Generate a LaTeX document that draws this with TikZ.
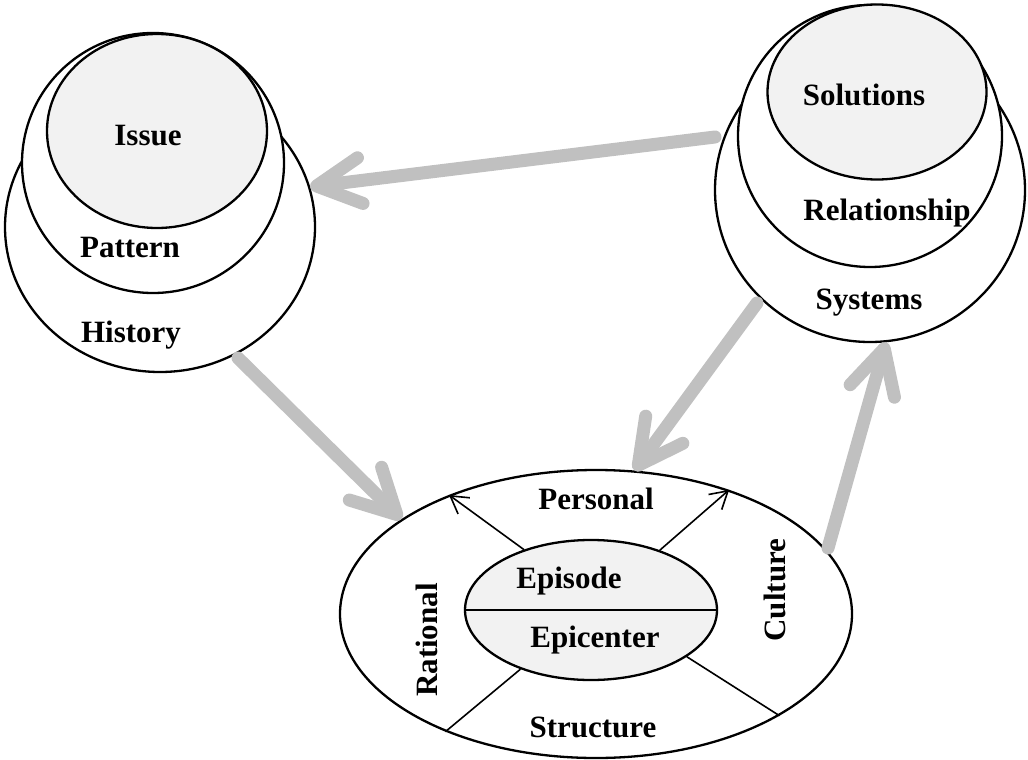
\documentclass[tikz,border=0pt]{standalone}
\usepackage{fontspec}
\setmainfont{Liberation Serif}
\usetikzlibrary{shapes.geometric,arrows.meta}
\definecolor{flowgray}{HTML}{C0C0C0}
\definecolor{coregray}{HTML}{F2F2F2}
\begin{document}
\begin{tikzpicture}[x=1pt,y=-1pt,
  ell/.style={ellipse,draw=black,line width=2.3pt,fill=white,inner sep=0pt},
  core/.style={ell,fill=coregray},
  lbl/.style={font=\bfseries\fontsize{31}{36}\selectfont,inner sep=0pt,anchor=base},
  flow/.style={draw=flowgray,line width=13pt,line cap=round,-{Straight Barb[length=44pt,width=46pt,round]}},
  spoke/.style={line width=1.6pt},
  spokearrow/.style={spoke,-{Straight Barb[length=17pt,width=20pt]}}
  ]
\useasboundingbox (0,0) rectangle (1028,760);

% left group
\node[ell,minimum width=310pt,minimum height=290pt] (histO) at (160,227) {};
\node[ell,minimum width=262pt,minimum height=260pt] (patM) at (153,163) {};
\node[core,minimum width=220pt,minimum height=194pt] (issI) at (157,131) {};
\node[lbl] (tIssue) at (148,145) {Issue};
\node[lbl] (tPattern) at (130,257) {Pattern};
\node[lbl] (tHistory) at (131,342) {History};

% right group
\node[ell,minimum width=310pt,minimum height=304pt] (sysO) at (870,190) {};
\node[ell,minimum width=264pt,minimum height=262pt] (relM) at (870,136) {};
\node[core,minimum width=219pt,minimum height=175pt] (solI) at (877,92) {};
\node[lbl] (tSol) at (864,105) {Solutions};
\node[lbl] (tRel) at (887,220) {Relationship};
\node[lbl] (tSys) at (869,309) {Systems};

% bottom group
\node[ell,minimum width=512pt,minimum height=288pt] (pers) at (596,614) {};
\node[core,minimum width=252pt,minimum height=140pt] (epi) at (591,610) {};
\draw[line width=2pt] (epi.west) -- (epi.east);
\node[lbl] (tPers) at (596,509) {Personal};
\node[lbl] (tEpis) at (569,588) {Episode};
\node[lbl] (tEpic) at (595,647) {Epicenter};
\node[lbl] (tStru) at (593,737) {Structure};
\node[lbl,rotate=90] (tRat) at (437,640) {Rational};
\node[lbl,rotate=90] (tCul) at (785,590) {Culture};

\draw[spokearrow] (epi.138) -- (pers.141.7);
\draw[spokearrow] (epi.41.5) -- (pers.43.6);
\draw[spoke] (epi.220.5) -- (pers.218.6);
\draw[spoke] (epi.-26.8) -- (pers.-29.9);

% flow arrows
\coordinate (s1) at (715,137);
\coordinate (s2) at (238,358);
\coordinate (s3) at (757,303);
\coordinate (s4) at (828,548);
\draw[flow] (s1) -- (histO.15.4);
\draw[flow] (s2) -- (pers.154.9);
\draw[flow] (s3) -- (pers.75.1);
\draw[flow] (s4) -- (sysO.276.3);
\end{tikzpicture}
\end{document}
